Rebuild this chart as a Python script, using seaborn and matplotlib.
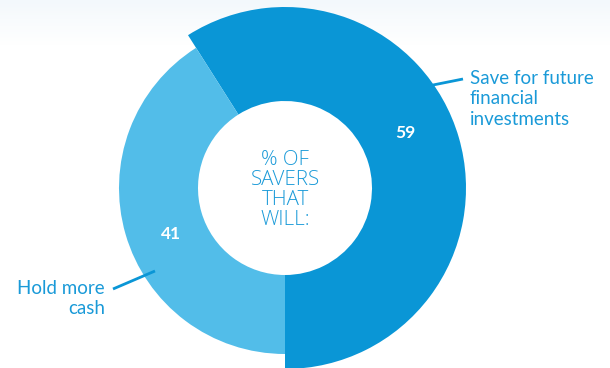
import numpy as np
import matplotlib
matplotlib.use("Agg")
import matplotlib.pyplot as plt
import seaborn as sns
from matplotlib.colors import LinearSegmentedColormap

# ---- data ----
categories = ["Save for future\nfinancial\ninvestments", "Hold more\ncash"]
values = [59, 41]
value_labels = ["59", "41"]
center_title = "% OF\nSAVERS\nTHAT\nWILL:"

sns.set_style("white")
plt.rcParams['font.family'] = ['Lato', 'DejaVu Sans']

dark = "#0a96d6"
light = "#52bde9"
text_col = "#1a9ad8"

W, H = 610, 368
fig = plt.figure(figsize=(W / 100, H / 100), dpi=100)
ax = fig.add_axes([0, 0, 1, 1])

# subtle top background tint
grad = np.linspace(0, 1, 100).reshape(-1, 1)
cm = LinearSegmentedColormap.from_list("bg", ["#ffffff", "#f3f8fc"])
ax.imshow(grad, extent=(0, W, H - 45, H), origin='lower', cmap=cm, aspect='auto', zorder=0)

cx, cy = 285, H - 188
inner_r = 87
radii = [181, 166]
wedges, _ = ax.pie(values, startangle=-90, counterclock=True, colors=[dark, light],
                   center=(cx, cy), radius=radii[0], frame=True,
                   wedgeprops=dict(linewidth=0))
for w, r in zip(wedges, radii):
    w.set_radius(r)
    w.set_width(r - inner_r)
    w.set_zorder(2)
ax.set_xlim(0, W)
ax.set_ylim(0, H)
ax.set_aspect('equal')
ax.axis('off')

# value labels
ax.text(405, H - 133, value_labels[0], color='white', fontsize=12.5, fontweight='bold',
        ha='center', va='center', zorder=5)
ax.text(171, H - 234, value_labels[1], color='white', fontsize=12.5, fontweight='bold',
        ha='center', va='center', zorder=5)

# center text
ax.text(cx, H - 190, center_title, color=text_col, fontsize=14.8,
        family=['Open Sans', 'DejaVu Sans'], fontweight='light',
        ha='center', va='center', linespacing=1.02, zorder=5)

# category labels with leader lines
ax.plot([433, 463], [H - 85, H - 79], color=dark, lw=2, solid_capstyle='butt', zorder=4)
ax.text(470, H - 99, categories[0], color=text_col, fontsize=13.5, ha='left', va='center',
        linespacing=1.22, zorder=5)
ax.plot([113, 155], [H - 289, H - 271], color=dark, lw=2, solid_capstyle='butt', zorder=4)
ax.text(105, H - 298.5, categories[1], color=text_col, fontsize=13.5, ha='right', va='center',
        multialignment='right', linespacing=1.22, zorder=5)

fig.savefig("out.png", dpi=100)
